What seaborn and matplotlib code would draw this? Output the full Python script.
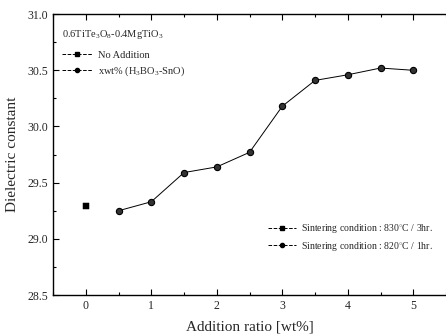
import matplotlib
matplotlib.use("Agg")
import matplotlib.pyplot as plt
from matplotlib.lines import Line2D
from matplotlib.ticker import MultipleLocator
import seaborn as sns
import pandas as pd

# data
no_add_x = [0]
no_add_y = [29.29]
ratio = [0.5, 1.0, 1.5, 2.0, 2.5, 3.0, 3.5, 4.0, 4.5, 5.0]
dielectric = [29.25, 29.33, 29.59, 29.64, 29.77, 30.18, 30.41, 30.46, 30.52, 30.50]
xticks = [0, 1, 2, 3, 4, 5]
yticks = [28.5, 29.0, 29.5, 30.0, 30.5, 31.0]

sns.set_theme(style="ticks")
plt.rcParams['font.family'] = ['Liberation Serif', 'DejaVu Serif']
plt.rcParams['mathtext.fontset'] = 'custom'
plt.rcParams['mathtext.rm'] = 'Liberation Serif'
plt.rcParams['mathtext.it'] = 'Liberation Serif:italic'

fig = plt.figure(figsize=(4.46, 3.36), dpi=100)
ax = fig.add_axes([0.119, 0.122, 0.881, 0.836])

df = pd.DataFrame({"x": ratio, "y": dielectric})
df0 = pd.DataFrame({"x": no_add_x, "y": no_add_y})
sns.lineplot(data=df, x="x", y="y", ax=ax, color="black", lw=0.7,
             marker="o", markersize=4.5, markerfacecolor="#333333",
             markeredgecolor="black", markeredgewidth=0.8)
sns.scatterplot(data=df0, x="x", y="y", ax=ax, color="black", marker="s", s=20,
                edgecolor="black")

ax.set_xlim(-0.5, 5.5)
ax.set_ylim(28.5, 31.0)
ax.set_xticks(xticks)
ax.set_yticks(yticks)
ax.set_yticklabels([f"{v:.1f}" for v in yticks])
ax.xaxis.set_minor_locator(MultipleLocator(0.5))
ax.yaxis.set_minor_locator(MultipleLocator(0.25))
ax.tick_params(which='both', direction='in', top=True, right=False, labelsize=8.5, width=0.8, color='black')
ax.tick_params(which='major', length=4)
ax.tick_params(which='minor', length=2)
for s in ['left', 'bottom', 'top']:
    ax.spines[s].set_linewidth(1.0)
    ax.spines[s].set_color('black')
ax.spines['right'].set_visible(False)

ax.set_xlabel("Addition ratio [wt%]", fontsize=11, labelpad=6)
ax.set_ylabel("Dielectric constant", fontsize=11, labelpad=6)

h1 = [Line2D([], [], color='black', ls='--', lw=0.7, marker='s', markersize=3),
      Line2D([], [], color='black', ls='--', lw=0.7, marker='o', markersize=3)]
leg1 = ax.legend(h1, ["No Addition", "xwt% (H$_3$BO$_3$-SnO)"],
                 title="0.6TiTe$_3$O$_8$-0.4MgTiO$_3$", loc='upper left',
                 bbox_to_anchor=(0.0, 0.985),
                 frameon=False, fontsize=7.5, title_fontsize=7.5, handlelength=2.8,
                 handletextpad=0.6, borderaxespad=0.5, alignment='left', labelspacing=0.45)
leg1._legend_box.sep = 7
ax.add_artist(leg1)

h2 = [Line2D([], [], color='black', ls='--', lw=0.7, marker='s', markersize=3),
      Line2D([], [], color='black', ls='--', lw=0.7, marker='o', markersize=3)]
ax.legend(h2, ["Sintering condition : 830$^{\\circ}$C / 3hr.",
               "Sintering condition : 820$^{\\circ}$C / 1hr."],
          loc='lower right', bbox_to_anchor=(0.99, 0.12), frameon=False,
          fontsize=7, handlelength=2.8, handletextpad=0.6, labelspacing=0.45)

fig.savefig("out.png", dpi=100)
